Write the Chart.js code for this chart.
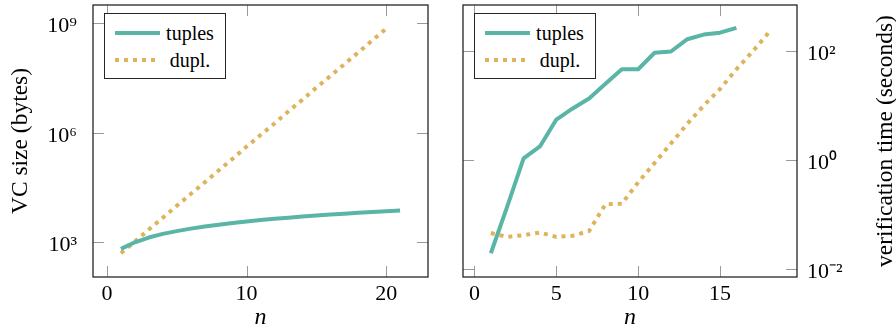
<!DOCTYPE html>
<html>
<head>
<meta charset="utf-8">
<script src="https://cdn.jsdelivr.net/npm/chart.js@4/dist/chart.umd.min.js"></script>
<style>
  body { margin: 0; background: #fff; }
  #wrap { position: relative; width: 896px; height: 332px; overflow: hidden; font-family: 'Liberation Serif', serif; }
  .panel { position: absolute; top: 0; height: 332px; }
  #left { left: 0; width: 440px; }
  #right { left: 440px; width: 456px; }
  .legend { position: absolute; top: 13px; width: 120px; height: 64px; border: 1px solid #262626; background: #fff; }
  .legend .row { position: absolute; left: 0; width: 120px; height: 24px; }
  .legend .sample { position: absolute; left: 10px; top: 10px; width: 45px; height: 4px; }
  .legend .txt { position: absolute; left: 60px; width: 50px; top: 0; line-height: 24px; text-align: center; font-size: 20px; color: #000; }
</style>
</head>
<body>
<div id="wrap">
  <div class="panel" id="left"><canvas id="cLeft" width="440" height="332"></canvas></div>
  <div class="panel" id="right"><canvas id="cRight" width="456" height="332"></canvas></div>
  <div class="legend" id="legLeft" style="left:104px"></div>
  <div class="legend" id="legRight" style="left:474px"></div>
</div>
<script>
'use strict';

// ── Data ─────────────────────────────────────────────
const seriesNames = ['tuples', 'dupl.'];

// left panel: VC size (bytes) vs n
const nSizeTuples = [1, 2, 3, 4, 5, 6, 7, 8, 9, 10, 11, 12, 13, 14, 15, 16, 17, 18, 19, 20, 21];
const sizeTuples  = [660, 1000, 1350, 1700, 2030, 2370, 2700, 3050, 3390, 3730, 4060,
                     4400, 4740, 5080, 5410, 5750, 6090, 6430, 6770, 7100, 7440];
const nSizeDupl   = [1, 2, 3, 4, 5, 6, 7, 8, 9, 10, 11, 12, 13, 14, 15, 16, 17, 18, 19, 20];
const sizeDupl    = [500, 1050, 2240, 4700, 1.0e4, 2.1e4, 4.4e4, 9.3e4, 1.95e5, 4.2e5,
                     8.7e5, 1.8e6, 3.9e6, 8.1e6, 1.74e7, 3.6e7, 7.6e7, 1.6e8, 3.4e8, 7.2e8];

// right panel: verification time (seconds) vs n
const nTimeTuples = [1, 2, 3, 4, 5, 6, 7, 8, 9, 10, 11, 12, 13, 14, 15, 16];
const timeTuples  = [0.0196, 0.14, 1.07, 1.77, 5.5, 8.8, 13.4, 25, 46, 46, 92, 97, 163, 198, 215, 263];
const nTimeDupl   = [1, 2, 3, 4, 5, 6, 7, 8, 9, 10, 11, 12, 13, 14, 15, 16, 17, 18];
const timeDupl    = [0.046, 0.039, 0.042, 0.047, 0.039, 0.041, 0.050, 0.155, 0.158, 0.39,
                     0.88, 2.0, 4.6, 9.9, 20, 46, 98, 220];

// ticks
const leftXTicks   = [0, 10, 20];
const rightXTicks  = [0, 5, 10, 15];
const sizeTicks    = [1e3, 1e6, 1e9];
const sizeLabels   = ['10³', '10⁶', '10⁹'];
const timeTicks    = [1e-2, 1, 1e2];
const timeLabels   = ['10⁻²', '10⁰', '10²'];

const TEAL = '#5ab5a7';
const GOLD = '#ddb35b';
const TICK_LEN = 11;
const FAMILY = "'Liberation Serif', serif";
const TICK_FONT  = { family: FAMILY, size: 22 };
const LABEL_FONT = { family: FAMILY, size: 23.5 };

Chart.defaults.font.family = FAMILY;
Chart.defaults.font.size = 22;
Chart.defaults.color = '#000';

// ── Plugins ──────────────────────────────────────────
const innerTicks = {
    id: 'innerTicks',
    beforeDatasetsDraw(chart) {
        const { ctx, chartArea: a, scales: { x, y } } = chart;
        ctx.save();
        ctx.strokeStyle = '#9a9a9a';
        ctx.lineWidth = 1;
        ctx.beginPath();
        x.ticks.forEach(t => {
            const px = Math.round(x.getPixelForValue(t.value)) + 0.5;
            ctx.moveTo(px, a.bottom); ctx.lineTo(px, a.bottom - TICK_LEN);
            ctx.moveTo(px, a.top);    ctx.lineTo(px, a.top + TICK_LEN);
        });
        y.ticks.forEach(t => {
            const py = Math.round(y.getPixelForValue(t.value)) + 0.5;
            ctx.moveTo(a.left, py);  ctx.lineTo(a.left + TICK_LEN, py);
            ctx.moveTo(a.right, py); ctx.lineTo(a.right - TICK_LEN, py);
        });
        ctx.stroke();
        ctx.restore();
    },
    afterDraw(chart) {
        const { ctx, chartArea: a } = chart;
        ctx.save();
        ctx.strokeStyle = '#262626';
        ctx.lineWidth = 1.3;
        ctx.strokeRect(a.left, a.top, a.right - a.left, a.bottom - a.top);
        // rotated title on the right axis (reads bottom to top)
        const rt = chart.options.plugins.rightTitle;
        if (rt && rt.text) {
            ctx.translate(rt.x, (a.top + a.bottom) / 2);
            ctx.rotate(-Math.PI / 2);
            ctx.font = `${LABEL_FONT.size}px ${FAMILY}`;
            ctx.fillStyle = '#000';
            ctx.textAlign = 'center';
            ctx.textBaseline = 'middle';
            ctx.fillText(rt.text, 0, 0);
        }
        ctx.restore();
    }
};

// ── Helpers ──────────────────────────────────────────
function points(xs, ys) {
    return xs.map((v, i) => ({ x: v, y: ys[i] }));
}

function datasets(nA, yA, nB, yB) {
    return [
        { label: seriesNames[0], data: points(nA, yA), borderColor: TEAL, borderWidth: 4,
          pointRadius: 0, fill: false, borderJoinStyle: 'round' },
        { label: seriesNames[1], data: points(nB, yB), borderColor: GOLD, borderWidth: 4,
          borderDash: [4, 5], borderCapStyle: 'butt', pointRadius: 0, fill: false },
    ];
}

// keep the plot box where the reference has it: no auto label padding
function noPad(s) {
    s.paddingTop = 0; s.paddingBottom = 0; s.paddingLeft = 0; s.paddingRight = 0;
}

function xScale(min, max, tickVals) {
    return {
        type: 'linear', min, max,
        afterBuildTicks: s => { s.ticks = tickVals.map(v => ({ value: v })); },
        afterFit: s => { s.height = 55; noPad(s); },
        grid: { display: false, drawTicks: false },
        border: { display: false },
        ticks: { font: TICK_FONT, color: '#000', padding: 4, maxRotation: 0, autoSkip: false },
        title: { display: true, text: 'n', font: { family: FAMILY, size: 24, style: 'italic' }, color: '#000', padding: 0 },
    };
}

function yScale(min, max, tickVals, labels, position, pad, width, title) {
    return {
        type: 'logarithmic', min, max, position,
        afterBuildTicks: s => { s.ticks = tickVals.map(v => ({ value: v })); },
        afterFit: s => { s.width = width; noPad(s); },
        grid: { display: false, drawTicks: false },
        border: { display: false },
        ticks: {
            font: TICK_FONT, color: '#000', autoSkip: false, labelOffset: 3, padding: pad,
            callback: v => labels[tickVals.indexOf(v)] ?? '',
        },
        title: title
            ? { display: true, text: title, font: LABEL_FONT, color: '#000', padding: { top: 7 } }
            : { display: false },
    };
}

function buildLegend(id) {
    const box = document.getElementById(id);
    const samples = [
        `background:${TEAL}`,
        `background:repeating-linear-gradient(90deg, ${GOLD} 0 4px, transparent 4px 9px)`,
    ];
    seriesNames.forEach((name, i) => {
        const row = document.createElement('div');
        row.className = 'row';
        row.style.top = (7 + i * 27) + 'px';
        row.innerHTML = `<div class="sample" style="${samples[i]}"></div><div class="txt">${name}</div>`;
        box.appendChild(row);
    });
}

// ── Left chart: VC size ──────────────────────────────
new Chart(document.getElementById('cLeft'), {
    type: 'line',
    data: { datasets: datasets(nSizeTuples, sizeTuples, nSizeDupl, sizeDupl) },
    options: {
        responsive: false, animation: false,
        layout: { padding: { top: 5, right: 12, left: 0, bottom: 0 } },
        plugins: { legend: { display: false }, tooltip: { enabled: false } },
        scales: {
            x: xScale(-1, 23, leftXTicks),
            y: yScale(112, 3.2e9, sizeTicks, sizeLabels, 'left', 16, 93, 'VC size (bytes)'),
        },
    },
    plugins: [innerTicks],
});

// ── Right chart: verification time ───────────────────
new Chart(document.getElementById('cRight'), {
    type: 'line',
    data: { datasets: datasets(nTimeTuples, timeTuples, nTimeDupl, timeDupl) },
    options: {
        responsive: false, animation: false,
        layout: { padding: { top: 5, right: 0, left: 23, bottom: 0 } },
        plugins: {
            legend: { display: false }, tooltip: { enabled: false },
            rightTitle: { text: 'verification time (seconds)', x: 446 },
        },
        scales: {
            x: xScale(-0.7, 19.7, rightXTicks),
            y: yScale(0.0072, 690, timeTicks, timeLabels, 'right', 10, 99, null),
        },
    },
    plugins: [innerTicks],
});

buildLegend('legLeft');
buildLegend('legRight');
</script>
</body>
</html>
